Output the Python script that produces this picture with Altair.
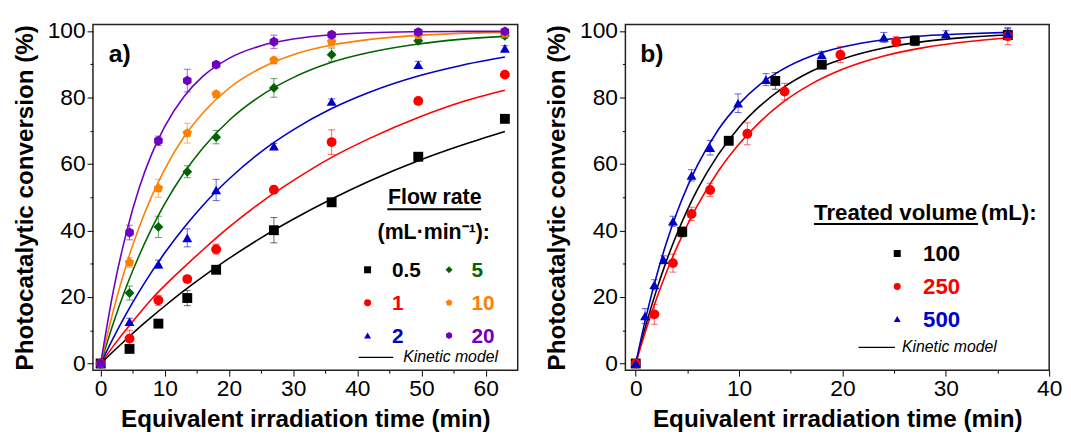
import altair as alt
import pandas as pd

NARROW = "Liberation Sans Narrow, Arial Narrow, sans-serif"
ARIAL = "Liberation Sans, Arial, sans-serif"

# ---------------- Panel a: flow rate ----------------
time_a = [0, 4.5, 9, 13.5, 18, 27, 36, 49.5, 63]
conv_a_05 = [0, 4.4, 12.0, 19.7, 28.2, 40.1, 48.5, 62.2, 73.6]
err_a_05 = [0.8, 1.0, 0.8, 2.3, 1.0, 3.8, 1.0, 0.8, 0.8]
conv_a_1 = [0, 7.5, 19.0, 25.4, 34.4, 52.3, 66.6, 79.0, 86.9]
err_a_1 = [0.8, 2.5, 1.5, 1.0, 1.5, 0.8, 3.7, 0.8, 0.8]
conv_a_2 = [0, 12.6, 29.9, 37.8, 52.2, 65.4, 78.8, 89.9, 94.8]
err_a_2 = [0.8, 1.0, 1.2, 2.7, 3.2, 0.8, 0.8, 1.0, 0.8]
conv_a_5 = [0, 21.2, 41.1, 57.7, 68.1, 82.9, 92.9, 97.1, 98.6]
err_a_5 = [0.8, 2.1, 3.2, 1.8, 2.0, 2.8, 2.0, 1.0, 0.8]
conv_a_10 = [0, 30.4, 52.7, 69.3, 81.0, 91.2, 96.8, 98.8, 99.3]
err_a_10 = [0.8, 1.5, 2.7, 3.0, 1.0, 1.0, 1.5, 0.8, 0.8]
conv_a_20 = [0, 39.4, 67.0, 85.1, 89.9, 96.8, 98.9, 99.7, 99.9]
err_a_20 = [0.8, 2.2, 1.4, 3.4, 1.0, 2.0, 1.0, 0.8, 0.8]

model_time_a = [0, 2, 4, 6, 8, 10, 13, 16, 20, 25, 30, 36, 42, 49.5, 56, 63]
model_a_05 = [0, 3.7, 7.3, 10.8, 14.1, 17.3, 21.9, 26.2, 31.6, 37.8, 43.4, 49.5, 55.0, 61.0, 65.5, 69.8]
model_a_1 = [0, 5.3, 10.3, 15.0, 19.5, 23.5, 29.0, 34.3, 41.0, 48.5, 55.0, 62.0, 67.8, 74.0, 78.5, 82.2]
model_a_2 = [0, 7.8, 15.0, 21.6, 27.7, 33.3, 40.9, 47.7, 55.5, 63.7, 70.3, 76.7, 81.7, 86.5, 89.6, 92.2]
model_a_5 = [0, 12.3, 23.1, 32.5, 40.8, 48.1, 57.4, 65.0, 73.1, 80.6, 86.0, 90.6, 93.6, 96.1, 97.5, 98.4]
model_a_10 = [0, 16.1, 29.7, 41.0, 50.5, 58.5, 68.2, 75.5, 82.8, 88.9, 92.9, 95.8, 97.5, 98.7, 99.3, 99.6]
model_a_20 = [0, 22.1, 39.3, 52.8, 63.2, 71.3, 80.3, 86.5, 91.8, 95.6, 97.6, 98.9, 99.5, 99.8, 99.9, 99.9]

flow_order = ["0.5", "1", "2", "5", "10", "20"]
flow_colors = ["#000000", "#FF0000", "#0000C8", "#006400", "#FF8000", "#7000C0"]
PENTAGON = "M0,-1L0.951,-0.309L0.588,0.809L-0.588,0.809L-0.951,-0.309Z"
HEXAGON = "M0,-1L0.866,-0.5L0.866,0.5L0,1L-0.866,0.5L-0.866,-0.5Z"
flow_shapes = ["square", "circle", "triangle-up", "diamond", PENTAGON, HEXAGON]

# legend key of panel a (two columns, three rows), placed in data units
leg_a_symbol_t = [41.6, 41.6, 41.6, 54.3, 54.3, 54.3]
leg_a_label_t = [45.4, 45.4, 45.4, 57.8, 57.8, 57.8]
leg_a_v = [28.2, 18.3, 8.4, 28.2, 18.3, 8.4]

# ---------------- Panel b: treated volume ----------------
time_b_100 = [0, 4.5, 9, 13.5, 18, 27, 36]
conv_b_100 = [0, 39.6, 67.0, 85.0, 89.9, 97.1, 98.8]
err_b_100 = [0.8, 1.5, 1.0, 2.5, 1.0, 1.5, 1.5]
time_b_250 = [0, 1.8, 3.6, 5.4, 7.2, 10.8, 14.4, 19.8, 25.2, 36]
conv_b_250 = [0, 14.8, 30.2, 45.0, 52.2, 69.1, 81.8, 92.9, 96.8, 98.5]
err_b_250 = [0.8, 3.0, 2.7, 2.0, 2.0, 3.3, 2.5, 2.4, 1.5, 2.6]
time_b_500 = [0, 0.9, 1.8, 2.7, 3.6, 5.4, 7.2, 9.9, 12.6, 18, 24, 30, 36]
conv_b_500 = [0, 14.3, 23.7, 31.2, 42.8, 56.6, 64.9, 78.3, 85.4, 92.9, 98.1, 99.1, 99.3]
err_b_500 = [0.8, 2.2, 1.5, 1.2, 1.5, 1.7, 2.2, 2.8, 1.8, 1.0, 1.5, 1.0, 1.5]

model_time_b = [0, 1, 2, 3, 4, 5, 6, 8, 10, 12, 14, 17, 20, 24, 28, 32, 36]
model_b_100 = [0, 11.7, 22.0, 31.1, 39.1, 46.2, 52.5, 62.9, 71.1, 77.4, 82.4, 87.9, 91.6, 94.9, 96.9, 98.1, 98.8]
model_b_250 = [0, 10.2, 19.4, 27.7, 35.1, 41.7, 47.7, 57.9, 66.0, 72.6, 78.0, 84.1, 88.5, 92.5, 95.1, 96.8, 98.0]
model_b_500 = [0, 14.1, 26.2, 36.6, 45.6, 53.2, 59.8, 70.4, 78.1, 83.9, 88.1, 92.5, 95.2, 97.4, 98.6, 99.2, 99.6]

vol_order = ["100", "250", "500"]
vol_colors = ["#000000", "#FF0000", "#0000C8"]
vol_shapes = ["square", "circle", "triangle-up"]

# legend key of panel b (one column), placed in data units
leg_b_symbol_t = [25.3, 25.3, 25.3]
leg_b_label_t = [27.8, 27.8, 27.8]
leg_b_v = [33.1, 23.2, 13.4]


def points_table(entries):
    rows = []
    for name, ts, vs, es in entries:
        for t, v, e in zip(ts, vs, es):
            rows.append({"series": name, "t": t, "v": v, "lo": v - e, "hi": v + e})
    return pd.DataFrame(rows)


def model_table(entries):
    rows = []
    for name, ts, vs in entries:
        for t, v in zip(ts, vs):
            rows.append({"series": name, "t": t, "v": v})
    return pd.DataFrame(rows)


def legend_table(names, st, lt, vs):
    return pd.DataFrame({"series": names, "t": st, "lt": lt, "v": vs})


pts_a = points_table([
    ("0.5", time_a, conv_a_05, err_a_05), ("1", time_a, conv_a_1, err_a_1),
    ("2", time_a, conv_a_2, err_a_2), ("5", time_a, conv_a_5, err_a_5),
    ("10", time_a, conv_a_10, err_a_10), ("20", time_a, conv_a_20, err_a_20),
])
mod_a = model_table([
    ("0.5", model_time_a, model_a_05), ("1", model_time_a, model_a_1),
    ("2", model_time_a, model_a_2), ("5", model_time_a, model_a_5),
    ("10", model_time_a, model_a_10), ("20", model_time_a, model_a_20),
])
leg_a = legend_table(flow_order, leg_a_symbol_t, leg_a_label_t, leg_a_v)
pts_b = points_table([
    ("100", time_b_100, conv_b_100, err_b_100),
    ("250", time_b_250, conv_b_250, err_b_250),
    ("500", time_b_500, conv_b_500, err_b_500),
])
mod_b = model_table([
    ("100", model_time_b, model_b_100), ("250", model_time_b, model_b_250),
    ("500", model_time_b, model_b_500),
])
leg_b = legend_table(vol_order, leg_b_symbol_t, leg_b_label_t, leg_b_v)

Y_TITLE = "Photocatalytic conversion (%)"
X_TITLE = "Equivalent irradiation time (min)"


def tick_axis(values, major, title, title_pad):
    return alt.Axis(
        values=values,
        labelExpr=f"datum.value % {major} === 0 ? datum.label : ''",
        tickSize={"condition": {"test": f"datum.value % {major} === 0", "value": 6}, "value": 3},
        title=title,
        titlePadding=title_pad,
    )


def text_layer(txt, x, y, size, font=ARIAL, weight="bold", style="normal", align="left", color="black"):
    return alt.Chart(pd.DataFrame({"s": [txt]})).mark_text(
        font=font, fontSize=size, fontWeight=weight, fontStyle=style, align=align,
        baseline="alphabetic", color=color,
    ).encode(text="s:N", x=alt.value(x), y=alt.value(y))


def hline(x1, x2, y, width=1.5):
    return alt.Chart(pd.DataFrame({"s": [0]})).mark_rule(color="black", strokeWidth=width).encode(
        x=alt.value(x1), x2=alt.value(x2), y=alt.value(y))


def panel(pts, mod, leg, leg_size, xdomain, xvalues, order, colors, shapes, annotations, w, h):
    xs = alt.Scale(domain=xdomain, nice=False, zero=False)
    ys = alt.Scale(domain=[-2, 102], nice=False, zero=False)
    xax = tick_axis(xvalues, 10, X_TITLE, 7)
    yax = tick_axis(list(range(0, 101, 10)), 20, Y_TITLE, 10)
    X = alt.X("t:Q", scale=xs, axis=xax)
    Y = alt.Y("v:Q", scale=ys, axis=yax)
    cs = alt.Scale(domain=order, range=colors)
    ss = alt.Scale(domain=order, range=shapes)
    S = alt.Stroke("series:N", scale=cs, legend=None)
    C = alt.Color("series:N", scale=cs, legend=None)
    SH = alt.Shape("series:N", scale=ss, legend=None)

    lines = alt.Chart(mod).mark_line(strokeWidth=1.6, interpolate="monotone").encode(
        x=X, y=Y, stroke=S)
    bars = alt.Chart(pts).mark_rule(strokeWidth=1, opacity=0.6).encode(
        x=X, y=alt.Y("lo:Q", scale=ys, axis=yax), y2="hi:Q", stroke=S)
    cap_lo = alt.Chart(pts).mark_point(shape="stroke", size=49, strokeWidth=1, opacity=0.6,
                                       filled=False).encode(
        x=X, y=alt.Y("lo:Q", scale=ys, axis=yax), stroke=S)
    cap_hi = alt.Chart(pts).mark_point(shape="stroke", size=49, strokeWidth=1, opacity=0.6,
                                       filled=False).encode(
        x=X, y=alt.Y("hi:Q", scale=ys, axis=yax), stroke=S)
    dots = alt.Chart(pts).mark_point(filled=True, size=100, opacity=1).encode(
        x=X, y=Y, color=C, shape=SH)
    key_dots = alt.Chart(leg).mark_point(filled=True, size=50, opacity=1).encode(
        x=X, y=Y, color=C, shape=SH)
    key_text = alt.Chart(leg).mark_text(
        font=ARIAL, fontSize=leg_size, fontWeight="bold", align="left", baseline="middle", dy=1
    ).encode(x=alt.X("lt:Q", scale=xs, axis=xax), y=Y, text="series:N", color=C)
    return alt.layer(lines, bars, cap_lo, cap_hi, dots, key_dots, key_text,
                     *annotations).properties(width=w, height=h)


ann_a = [
    text_layer("a)", 16, 38, 25),
    text_layer("Flow rate", 346, 182, 21.6, align="center"),
    hline(298, 393, 187, 2),
    text_layer("(mL·min⁻¹):", 345, 217, 21.6, align="center"),
    hline(269, 304, 337, 1.2),
    text_layer("Kinetic model", 314, 342, 16, weight="normal", style="italic"),
]
ann_b = [
    text_layer("b)", 15, 38, 25),
    text_layer("Treated volume", 191, 198, 22.5),
    hline(191, 357, 202, 2),
    text_layer("(mL):", 360, 198, 22.5),
    hline(236, 273, 327, 1.2),
    text_layer("Kinetic model", 280, 332, 16, weight="normal", style="italic"),
]

panel_a = panel(pts_a, mod_a, leg_a, 21, [-1.2, 65], list(range(0, 61, 5)), flow_order,
                flow_colors, flow_shapes, ann_a, 430, 350)
panel_b = panel(pts_b, mod_b, leg_b, 22.5, [-1, 40], list(range(0, 41, 5)), vol_order,
                vol_colors, vol_shapes, ann_b, 429, 350)

chart = alt.hconcat(panel_a, panel_b, spacing=25).resolve_scale(
    color="independent", shape="independent", stroke="independent",
    x="independent", y="independent"
).properties(
    padding={"left": 3, "top": 8, "right": 0, "bottom": 0}
).configure_view(
    stroke="#222222", strokeWidth=1.5
).configure_axis(
    labelFont=NARROW, labelFontSize=23, labelColor="black", labelPadding=2,
    labelFlush=False, labelOverlap=False,
    tickColor="black", tickWidth=1, domain=False, grid=False,
    titleFont=ARIAL, titleFontSize=24.5, titleFontWeight="bold", titleColor="black",
)

chart.save("out.html", embed_options={"renderer": "svg", "actions": False})
